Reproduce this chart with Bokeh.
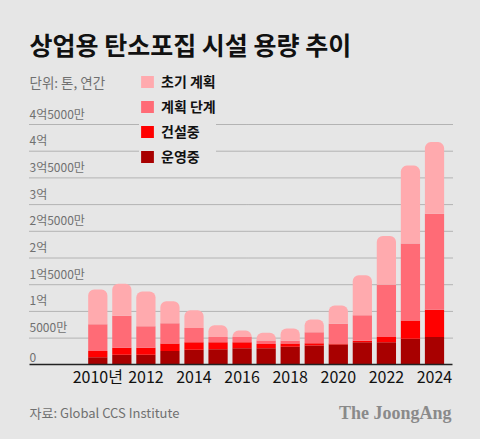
from bokeh.plotting import figure
from bokeh.models import (Range1d, FixedTicker, Label, Legend, LegendItem,
                          ColumnDataSource, GlobalInlineStyleSheet)
from bokeh.transform import stack
from bokeh.embed import file_html
from bokeh.resources import INLINE

# ---- data (억 톤) ----
years = list(range(2010, 2025))
operating = [0.14, 0.19, 0.19, 0.26, 0.28, 0.29, 0.31, 0.31, 0.34, 0.36, 0.38, 0.42, 0.42, 0.49, 0.52]
construction = [0.12, 0.13, 0.13, 0.14, 0.14, 0.13, 0.11, 0.08, 0.06, 0.045, 0.02, 0.03, 0.10, 0.34, 0.51]
planning = [0.50, 0.60, 0.40, 0.38, 0.27, 0.10, 0.10, 0.065, 0.05, 0.205, 0.37, 0.48, 0.98, 1.44, 1.80]
early = [0.65, 0.60, 0.655, 0.41, 0.33, 0.22, 0.12, 0.145, 0.23, 0.24, 0.34, 0.745, 0.91, 1.46, 1.34]

series_labels = ["운영중", "건설중", "계획 단계", "초기 계획"]
colors = ["#a80000", "#ff0000", "#ff6b76", "#ffaaae"]

ytick_vals = [0, 0.5, 1, 1.5, 2, 2.5, 3, 3.5, 4, 4.5]
ytick_labels = ["0", "5000만", "1억", "1억5000만", "2억", "2억5000만", "3억",
                "3억5000만", "4억", "4억5000만"]
xtick_vals = [2010, 2012, 2014, 2016, 2018, 2020, 2022, 2024]
xtick_labels = ["2010년", "2012", "2014", "2016", "2018", "2020", "2022", "2024"]

title_text = "상업용 탄소포집 시설 용량 추이"
unit_text = "단위: 톤, 연간"
source_text = "자료: Global CCS Institute"
logo_text = "The JoongAng"

FONT = "Noto Sans CJK KR"
BG = "#e6e6e6"

# ---- layout: frame covers the whole canvas ----
W, H = 480, 439
PX_PER_YEAR = 24.05
PX_PER_UNIT = 53.4
X_FIRST_PX = 97.3      # page x of first bar centre
BASE_PX = 364.3        # page y of zero line
X0 = years[0] - X_FIRST_PX / PX_PER_YEAR
X1 = X0 + W / PX_PER_YEAR
Y1 = BASE_PX / PX_PER_UNIT
Y0 = Y1 - H / PX_PER_UNIT


def px_x(page_x):
    return X0 + page_x / PX_PER_YEAR


def px_y(page_y):
    return Y1 - page_y / PX_PER_UNIT


GRID_L, GRID_R = px_x(29), px_x(452)

src = ColumnDataSource(dict(year=years, operating=operating, construction=construction,
                            planning=planning, early=early))

p = figure(width=W, height=H, output_backend="svg", toolbar_location=None,
           x_range=Range1d(X0, X1), y_range=Range1d(Y0, Y1),
           y_axis_location=None,
           min_border_left=0, min_border_right=0, min_border_top=0, min_border_bottom=0,
           background_fill_color=BG, border_fill_color=BG, outline_line_color=None)
p.stylesheets = [GlobalInlineStyleSheet(css="body{background:%s;}" % BG)]

p.xgrid.visible = False
p.ygrid.visible = False

# dotted horizontal grid lines at the tick values
gy = ytick_vals[1:]
p.segment(x0=[GRID_L] * len(gy), x1=[GRID_R] * len(gy), y0=gy, y1=gy,
          line_color="#808080", line_dash="1 1", line_width=1)

ax = p.xaxis[0]
ax.fixed_location = 0
ax.bounds = (GRID_L, GRID_R)
ax.ticker = FixedTicker(ticks=xtick_vals)
ax.major_label_overrides = {v: l for v, l in zip(xtick_vals, xtick_labels)}
ax.major_tick_line_color = None
ax.minor_tick_line_color = None
ax.axis_line_color = "#222222"
ax.axis_line_width = 1.5
ax.major_label_text_font = FONT
ax.major_label_text_font_size = "16px"
ax.major_label_text_color = "#111111"
ax.major_label_standoff = -7

cols = ["operating", "construction", "planning", "early"]
rs = []
for i, c in enumerate(cols):
    kw = {}
    if i == len(cols) - 1:
        kw["border_radius"] = (6, 6, 0, 0)
    bottom = stack(*cols[:i]) if i > 0 else 0
    r = p.vbar(x="year", width=0.8, bottom=bottom, top=stack(*cols[:i + 1]),
               fill_color=colors[i], line_color=None, source=src, **kw)
    rs.append(r)

legend = Legend(items=[LegendItem(label=series_labels[i], renderers=[rs[i]]) for i in [3, 2, 1, 0]],
                location=(139, 273), orientation="vertical",
                label_text_font=FONT, label_text_font_size="14px", label_text_font_style="bold",
                label_text_color="#111111", glyph_width=16, glyph_height=15, label_height=15,
                spacing=5, padding=10, margin=0, label_standoff=6,
                background_fill_color=BG, background_fill_alpha=1.0, border_line_color=None)
p.add_layout(legend)

for v, l in zip(ytick_vals, ytick_labels):
    p.add_layout(Label(x=GRID_L, y=v, text=l, y_offset=3, text_align="left", text_baseline="bottom",
                       text_font=FONT, text_font_size="12px", text_color="#707070"))

p.add_layout(Label(x=px_x(29), y=px_y(43.5), text=title_text, text_align="left",
                   text_baseline="middle", text_font=FONT, text_font_size="25px",
                   text_font_style="bold", text_color="#111111"))
p.add_layout(Label(x=px_x(29), y=px_y(81), text=unit_text, text_align="left",
                   text_baseline="middle", text_font=FONT, text_font_size="13.5px",
                   text_color="#707070"))
p.add_layout(Label(x=px_x(29), y=px_y(412), text=source_text, text_align="left",
                   text_baseline="middle", text_font=FONT, text_font_size="13px",
                   text_color="#707070"))
p.add_layout(Label(x=px_x(451), y=px_y(412), text=logo_text, text_align="right",
                   text_baseline="middle", text_font="Liberation Serif", text_font_size="18px",
                   text_font_style="bold", text_color="#8a8a8a"))

open("out.html", "w").write(file_html(p, INLINE))
